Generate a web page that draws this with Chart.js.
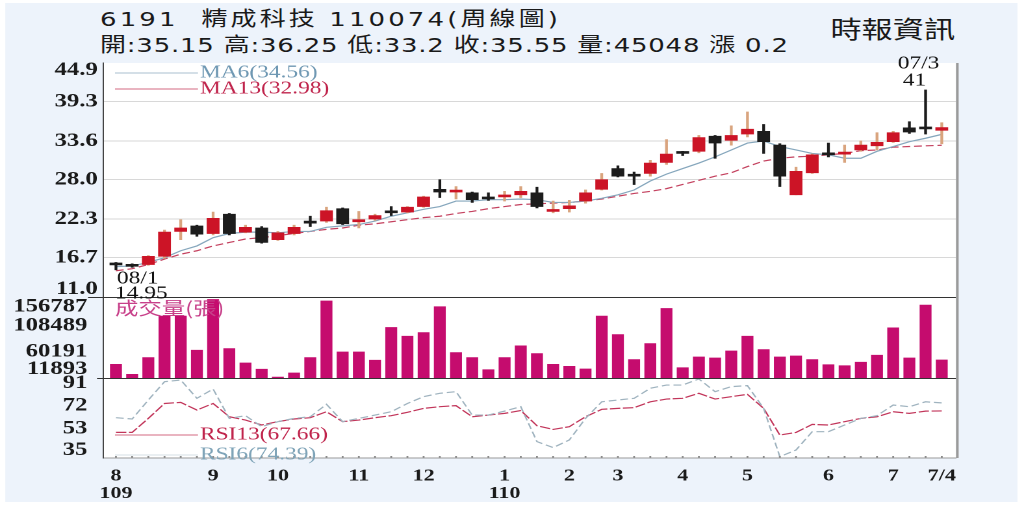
<!DOCTYPE html>
<html>
<head>
<meta charset="utf-8">
<script src="https://cdn.jsdelivr.net/npm/chart.js@4.4.1/dist/chart.umd.min.js"></script>
<style>
  html, body { margin: 0; padding: 0; background: #fff; overflow: hidden; }
  /* the original picture is stretched sideways, so the whole stage is too */
  #stage { position: absolute; left: 0; top: 0; width: 788px; height: 512px; transform: scaleX(1.2995); transform-origin: 0 0; }
  #panel { position: absolute; left: 4px; top: 3px; width: 779px; height: 499px; background: #edf3fb; }
  #chart { position: absolute; left: 0; top: 0; }
  .hd { position: absolute; white-space: pre; color: #1a1a1a; font-family: "DejaVu Sans", "Noto Sans CJK TC", sans-serif; font-size: 20px; line-height: 1; }
</style>
</head>
<body>
<div id="stage">
  <div id="panel"></div>
  <div class="hd" style="left:77px; top:9px; letter-spacing:2.4px;">6191  精成科技 110074(周線圖)</div>
  <div class="hd" style="left:77px; top:35px; letter-spacing:0.6px;">開:35.15 高:36.25 低:33.2 收:35.55 量:45048 漲 0.2</div>
  <div class="hd" style="left:639px; top:16px; font-size:24px; font-family:'Noto Sans CJK TC';">時報資訊</div>
  <canvas id="chart" width="788" height="512"></canvas>
</div>
<script>
const S = 1024 / 788;

// weekly candles, 08/1 (109) .. 7/4 (110)
const opens  = [15.75, 15.5, 15.7, 16.9, 20.5, 21.3, 20.2, 23.0, 20.4, 21.0, 19.3, 20.2, 21.8, 22.0, 23.8, 21.9, 22.3, 23.3, 23.3, 24.1,
                26.6, 26.2, 26.1, 25.3, 25.5, 25.8, 26.1, 23.4, 23.8, 24.9, 26.6, 29.6, 28.6, 28.9, 30.5, 31.9, 32.1, 34.3, 33.7, 34.6,
                35.0, 33.0, 25.8, 29.0, 31.7, 31.7, 32.3, 32.9, 33.5, 35.5, 35.4, 35.15];
const highs  = [16.0, 15.8, 17.0, 20.7, 22.2, 21.4, 23.3, 23.1, 21.4, 21.2, 20.5, 21.4, 22.7, 24.0, 23.9, 23.4, 23.0, 24.1, 24.1, 25.6,
                28.0, 27.0, 26.2, 26.1, 26.3, 27.0, 26.9, 24.9, 25.0, 26.5, 28.9, 30.0, 29.1, 30.8, 33.8, 32.1, 34.4, 34.4, 35.8, 37.8,
                36.0, 33.2, 29.8, 31.7, 33.3, 33.0, 33.6, 34.8, 35.0, 36.4, 41.0, 36.25];
const lows   = [14.95, 15.3, 15.6, 16.6, 19.3, 19.8, 20.0, 20.0, 20.3, 18.8, 19.2, 20.0, 21.2, 21.8, 21.5, 21.0, 22.1, 22.8, 23.2, 24.0,
                25.4, 25.2, 24.7, 25.0, 24.9, 25.4, 23.9, 23.2, 23.3, 24.6, 26.5, 28.4, 27.3, 28.5, 30.2, 31.5, 31.9, 31.1, 33.0, 34.2,
                31.8, 27.0, 25.8, 28.9, 31.3, 30.5, 32.1, 32.3, 33.4, 34.7, 34.6, 33.2];
const closes = [15.65, 15.45, 16.9, 20.4, 21.0, 20.1, 22.4, 20.2, 21.1, 18.9, 20.3, 21.1, 21.7, 23.5, 21.6, 22.1, 22.8, 23.2, 24.0, 25.5,
                26.2, 26.4, 25.1, 25.2, 25.7, 26.3, 24.1, 23.6, 24.2, 26.1, 28.0, 28.5, 28.5, 30.4, 31.7, 31.8, 34.1, 33.3, 34.4, 35.3,
                33.5, 28.5, 29.2, 31.6, 31.6, 31.9, 33.0, 33.4, 34.8, 34.9, 35.35, 35.55];
const volumes = [37200, 18700, 49450, 126000, 126000, 63100, 156787, 66100, 39640, 28000, 13700, 21150, 49450, 153800, 60000, 60000,
                 44600, 105000, 89000, 95700, 143200, 58700, 49450, 27250, 49450, 71100, 56850, 37200, 33500, 28500, 126000, 92000,
                 45750, 75350, 140100, 30950, 50750, 48900, 61850, 89000, 64250, 50750, 52600, 45750, 36500, 34650, 40900, 53900,
                 104400, 48900, 146400, 45048];
const ma6  = [15.4, 15.5, 16.0, 16.7, 17.7, 18.4, 19.6, 20.2, 20.4, 20.4, 20.3, 20.5, 20.5, 21.1, 21.3, 21.5, 22.0, 22.7, 23.2, 23.7,
              24.1, 24.9, 24.9, 25.1, 25.1, 25.2, 25.1, 24.7, 24.7, 24.9, 25.3, 25.8, 26.5, 27.8, 28.8, 29.6, 30.4, 31.3, 32.3, 33.3,
              33.6, 32.8, 32.3, 31.8, 31.6, 31.1, 31.1, 32.1, 32.8, 33.5, 34.0, 34.56];
const ma13 = [14.8, 15.1, 15.7, 16.5, 17.2, 17.7, 18.4, 18.9, 19.4, 19.6, 19.9, 20.2, 20.5, 20.8, 21.0, 21.4, 21.6, 21.9, 22.2, 22.5,
              22.7, 23.1, 23.4, 23.8, 24.1, 24.4, 24.5, 24.6, 24.7, 24.9, 25.2, 25.6, 26.0, 26.3, 26.7, 27.3, 27.9, 28.5, 29.0, 29.9,
              30.7, 31.1, 31.3, 31.4, 31.6, 31.8, 32.2, 32.3, 32.7, 32.8, 32.9, 32.98];
const rsi6  = [62.0, 60.9, 76.8, 92.1, 93.5, 78.2, 86.0, 61.4, 63.7, 54.5, 58.7, 61.4, 62.8, 73.2, 58.7, 61.4, 64.2, 67.0, 73.9, 79.6,
               82.4, 83.8, 64.2, 64.2, 67.5, 71.2, 42.0, 37.0, 43.4, 61.4, 75.3, 76.8, 78.2, 86.6, 89.3, 89.3, 94.4, 83.8, 88.0, 88.8,
               69.8, 29.4, 35.0, 50.3, 50.3, 55.9, 61.4, 63.7, 72.6, 71.2, 75.3, 74.39];
const rsi13 = [49.7, 49.7, 61.4, 73.9, 74.8, 68.4, 73.9, 62.8, 60.0, 55.9, 58.7, 60.9, 62.0, 67.0, 58.7, 60.0, 62.0, 63.7, 66.5, 69.8,
               71.2, 72.1, 62.8, 64.2, 65.6, 68.0, 55.3, 52.2, 54.5, 62.8, 69.0, 69.8, 70.4, 75.3, 77.6, 78.2, 82.4, 77.6, 79.6, 81.5,
               69.8, 47.5, 49.7, 56.4, 55.9, 58.7, 61.4, 62.8, 67.0, 65.6, 67.5, 67.66];

const priceTicks = [11.0, 16.7, 22.3, 28.0, 33.6, 39.3, 44.9];
const volTicks = [11893, 60191, 108489, 156787];
const rsiTicks = [35, 53, 72, 91];
const monthTicks = [0, 6, 10, 15, 19, 24, 28, 31, 35, 39, 44, 48, 51];
const monthLabels = [['8', '109'], '9', '10', '11', '12', ['1', '110'], '2', '3', '4', '5', '6', '7', '7/4'];

const RED = '#cc1426', BLACK = '#1c1c1c', TAN = '#d9a47e', MAGENTA = '#c50c6e';
const up = closes.map((c, i) => c >= opens[i]);
const pts = arr => arr.map((v, i) => ({x: i, y: v}));
const tickFont = {family: 'Liberation Serif', size: 19, weight: 'bold'};

// keep the end labels of a panel inside it, like the original does
function placeTicks(values, min, max, panelPx, padTop, padBottom) {
  const perPx = (max - min) / panelPx;
  const last = values.length - 1;
  return values.map((v, i) => ({value: i === last ? v - padTop * perPx : i === 0 ? v + padBottom * perPx : v}));
}
const fixWidth = s => { s.width = 103 / S; };

const frame = {
  id: 'frame',
  beforeDraw(chart) {
    const {ctx, chartArea: a} = chart;
    ctx.save();
    ctx.fillStyle = '#fff';
    ctx.fillRect(a.left, a.top, a.right - a.left, a.bottom - a.top);
    ctx.restore();
  },
  afterDraw(chart) {
    const {ctx, chartArea: a, scales} = chart;
    ctx.save();
    ctx.strokeStyle = '#333';
    ctx.lineWidth = 1;
    [[scales.y.bottom, 88 / S], [scales.yVol.bottom, 97 / S]].forEach(([y, x0]) => {
      ctx.beginPath(); ctx.moveTo(x0, y + 0.5); ctx.lineTo(a.right, y + 0.5); ctx.stroke();
    });
    ctx.strokeStyle = '#9a9a9a';
    ctx.lineWidth = 2;
    ctx.beginPath(); ctx.moveTo(a.right + 1, a.top); ctx.lineTo(a.right + 1, a.bottom); ctx.stroke();

    // little week dots along the time axis
    ctx.fillStyle = '#8a8a8a';
    closes.forEach((c, i) => ctx.fillRect(scales.x.getPixelForValue(i) - 0.7, a.bottom - 2, 1.4, 1.6));

    ctx.textBaseline = 'middle';
    ctx.lineWidth = 1;
    const legend = (y, color, lineColor, text) => {
      ctx.strokeStyle = lineColor;
      ctx.beginPath(); ctx.moveTo(115 / S, y); ctx.lineTo(198 / S, y); ctx.stroke();
      ctx.fillStyle = color;
      ctx.font = '18px "Liberation Serif"';
      ctx.fillText(text, 200 / S, y);
    };
    legend(73, '#6f98b3', '#a9c0cf', `MA6(${ma6[ma6.length - 1].toFixed(2)})`);
    legend(89, '#c0244c', '#d46a82', `MA13(${ma13[ma13.length - 1].toFixed(2)})`);
    legend(435, '#c0244c', '#d46a82', `RSI13(${rsi13[rsi13.length - 1].toFixed(2)})`);
    legend(455, '#7fa4b8', '#d5e0e6', `RSI6(${rsi6[rsi6.length - 1].toFixed(2)})`);

    ctx.fillStyle = '#c8408a';
    ctx.font = '18px "Noto Sans CJK TC"';
    ctx.fillText('成交量(張)', 115 / S, 308);

    // lowest low and highest high marks
    ctx.fillStyle = '#111';
    ctx.font = '18px "Liberation Serif"';
    const lo = Math.min(...lows), hi = Math.max(...highs);
    const loX = scales.x.getPixelForValue(lows.indexOf(lo)), loY = scales.y.getPixelForValue(lo);
    ctx.fillText('08/1', loX + 1 / S, loY + 9);
    ctx.fillText(lo.toFixed(2), loX - 1 / S, loY + 24);
    const hiX = scales.x.getPixelForValue(highs.indexOf(hi)), hiY = scales.y.getPixelForValue(hi);
    ctx.textAlign = 'center';
    ctx.fillText('07/3', hiX - 7 / S, hiY - 26);
    ctx.fillText(String(hi), hiX - 11 / S, hiY - 9);
    ctx.restore();
  }
};

new Chart(document.getElementById('chart'), {
  data: {
    datasets: [
      {type: 'bar', yAxisID: 'y', order: 1, grouped: false, barThickness: 1.5,
       data: highs.map((h, i) => ({x: i, y: [lows[i], h]})),
       backgroundColor: up.map(u => u ? TAN : BLACK)},
      {type: 'bar', yAxisID: 'y', order: 0, grouped: false, barThickness: 9.2, minBarLength: 2,
       data: opens.map((o, i) => ({x: i, y: [o, closes[i]]})),
       backgroundColor: up.map(u => u ? RED : BLACK)},
      {type: 'line', yAxisID: 'y', order: 2, data: pts(ma6), borderColor: '#86a7bd', borderWidth: 1.2, pointRadius: 0},
      {type: 'line', yAxisID: 'y', order: 2, data: pts(ma13), borderColor: '#c4405e', borderWidth: 1.2, borderDash: [6, 3], pointRadius: 0},
      {type: 'bar', yAxisID: 'yVol', grouped: false, barThickness: 8.5,
       data: volumes.map((v, i) => ({x: i, y: [volTicks[0], v]})), backgroundColor: MAGENTA},
      {type: 'line', yAxisID: 'yRsi', data: pts(rsi6), borderColor: '#9fb3bf', borderWidth: 1.2, borderDash: [6, 3], pointRadius: 0},
      {type: 'line', yAxisID: 'yRsi', data: pts(rsi13), borderColor: '#c2355a', borderWidth: 1.2, borderDash: [8, 2], pointRadius: 0}
    ]
  },
  options: {
    responsive: false,
    animation: false,
    devicePixelRatio: 2,
    layout: {padding: {left: 0, right: 1024 / S - 956 / S, top: 63, bottom: 0}},
    plugins: {legend: {display: false}, tooltip: {enabled: false}},
    scales: {
      x: {
        type: 'linear', min: -0.8, max: 51.88, offset: false,
        afterBuildTicks: s => { s.ticks = monthTicks.map(v => ({value: v})); },
        afterFit: s => { s.height = 512 - 458; },
        ticks: {autoSkip: false, maxRotation: 0, padding: 1, color: '#1a1a1a',
                font: {family: 'Liberation Serif', size: 17, weight: 'bold', lineHeight: 1.05},
                callback: (v, i) => monthLabels[i]},
        grid: {display: false, offset: false},
        border: {color: '#9a9a9a'}
      },
      yRsi: {
        type: 'linear', position: 'left', stack: 'k', stackWeight: 80, min: 28.3, max: 95.2,
        afterBuildTicks: s => { s.ticks = rsiTicks.map(v => ({value: v})); },
        afterFit: fixWidth,
        ticks: {autoSkip: false, color: '#1a1a1a', font: tickFont, padding: 4, callback: (v, i) => rsiTicks[i]},
        grid: {display: false},
        border: {color: '#444'}
      },
      yVol: {
        type: 'linear', position: 'left', stack: 'k', stackWeight: 81, min: volTicks[0], max: 161200,
        afterBuildTicks: s => { s.ticks = placeTicks(volTicks, volTicks[0], 161200, 81, 7, 9); },
        afterFit: fixWidth,
        ticks: {autoSkip: false, color: '#1a1a1a', font: tickFont, padding: 4, callback: (v, i) => volTicks[i]},
        grid: {display: false},
        border: {color: '#444'}
      },
      y: {
        type: 'linear', position: 'left', stack: 'k', stackWeight: 234, min: 11.0, max: 44.9,
        afterBuildTicks: s => { s.ticks = placeTicks(priceTicks, 11.0, 44.9, 234, 7, 8); },
        afterFit: fixWidth,
        ticks: {autoSkip: false, color: '#1a1a1a', font: tickFont, padding: 4, callback: (v, i) => priceTicks[i].toFixed(1)},
        grid: {drawTicks: false, color: c => (c.index === 0 || c.index === priceTicks.length - 1) ? 'rgba(0,0,0,0)' : '#d8d8d8'},
        border: {color: '#444'}
      }
    }
  },
  plugins: [frame]
});
</script>
</body>
</html>
